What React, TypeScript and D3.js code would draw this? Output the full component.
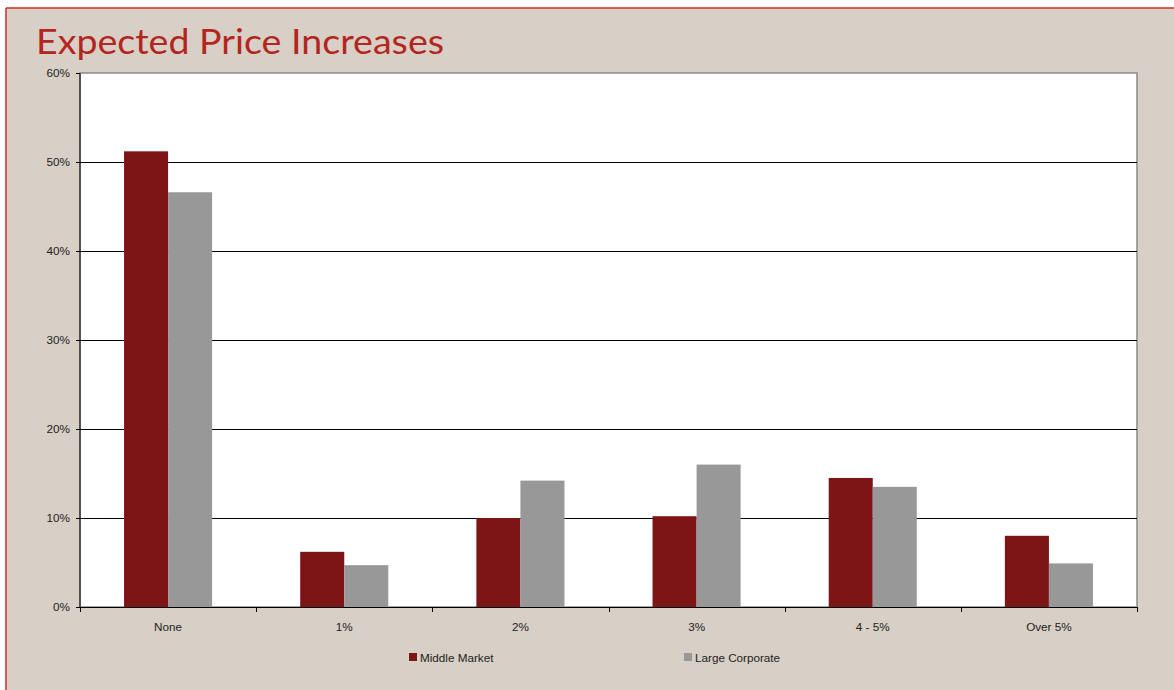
import React from "react";
import * as d3 from "d3";

const categories = ["None", "1%", "2%", "3%", "4 - 5%", "Over 5%"];
const middleMarket = [51.2, 6.2, 10.0, 10.2, 14.5, 8.0];
const largeCorporate = [46.6, 4.7, 14.2, 16.0, 13.5, 4.9];
const yTicks = [0, 10, 20, 30, 40, 50, 60];
const seriesNames = ["Middle Market", "Large Corporate"];
const seriesColors = ["#7D1416", "#989898"];

export default function App() {
  const W = 1174, H = 690;
  const left = 80, right = 1137, top = 73, bottom = 607;
  const x = d3.scaleBand<string>().domain(categories).range([left, right]).paddingInner(0).paddingOuter(0);
  const y = d3.scaleLinear().domain([0, 60]).range([bottom, top]);
  const bw = x.bandwidth();
  const barW = bw * 0.25;
  const series = [middleMarket, largeCorporate];
  const font = "'Liberation Sans', Arial, sans-serif";
  const fs = 11.7;

  return (
    <svg width={W} height={H} style={{ position: "absolute", left: 0, top: 0 }}>
      <rect x={0} y={0} width={W} height={H} fill="#ffffff" />
      <rect x={6} y={8} width={W} height={H} fill="#D8CFC6" />
      <line x1={6} y1={8} x2={W} y2={8} stroke="#D42A20" strokeWidth={1.5} />
      <line x1={6} y1={8} x2={6} y2={H} stroke="#D42A20" strokeWidth={1.5} />
      <text x={36} y={54} fontFamily="'Gill Sans', Lato, 'Open Sans', sans-serif" fontSize={35} fill="#B3261E" textLength={408} lengthAdjust="spacingAndGlyphs">
        Expected Price Increases
      </text>
      <rect x={left} y={top} width={right - left} height={bottom - top} fill="#ffffff" stroke="#8a8a8a" strokeWidth={1.5} />
      {yTicks.filter(t => t > 0 && t < 60).map(t => (
        <line key={"g" + t} x1={left} x2={right} y1={Math.round(y(t)) + 0.5} y2={Math.round(y(t)) + 0.5} stroke="#000" strokeWidth={1} />
      ))}
      {categories.map((c, i) =>
        series.map((s, j) => (
          <rect key={c + j} x={(x(c) as number) + bw * 0.25 + j * barW} y={y(s[i])} width={barW} height={bottom - y(s[i])} fill={seriesColors[j]} />
        ))
      )}
      <line x1={left} x2={left} y1={top} y2={bottom} stroke="#000" strokeWidth={1} />
      <line x1={left} x2={right} y1={bottom + 0.5} y2={bottom + 0.5} stroke="#000" strokeWidth={1} />
      {yTicks.map(t => (
        <g key={"y" + t}>
          <line x1={left - 4} x2={left} y1={Math.round(y(t)) + 0.5} y2={Math.round(y(t)) + 0.5} stroke="#000" />
          <text x={70} y={y(t) + 4} textAnchor="end" fontFamily={font} fontSize={fs} fill="#222">{t}%</text>
        </g>
      ))}
      {[...categories.map(c => x(c) as number), right].map((v, i) => (
        <line key={"xt" + i} x1={Math.round(v) + 0.5} x2={Math.round(v) + 0.5} y1={bottom} y2={bottom + 5} stroke="#000" />
      ))}
      {categories.map(c => (
        <text key={"xl" + c} x={(x(c) as number) + bw / 2} y={631} textAnchor="middle" fontFamily={font} fontSize={fs} fill="#222">{c}</text>
      ))}
      {seriesNames.map((n, j) => {
        const lx = j === 0 ? 409 : 684;
        return (
          <g key={n}>
            <rect x={lx} y={653} width={8} height={8} fill={seriesColors[j]} />
            <text x={lx + 11} y={662} fontFamily={font} fontSize={fs} fill="#222">{n}</text>
          </g>
        );
      })}
    </svg>
  );
}
